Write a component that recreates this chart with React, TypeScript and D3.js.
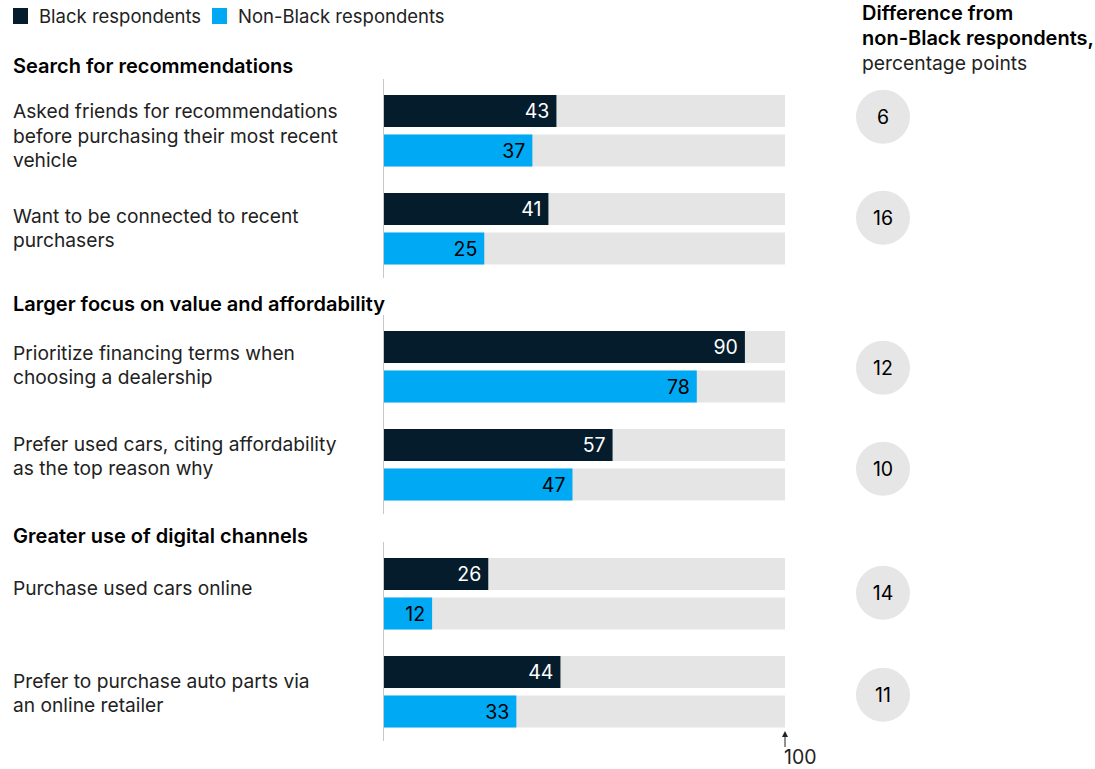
import React from "react";
import * as d3 from "d3";

// Survey items grouped by theme
const groups = [
  "Search for recommendations",
  "Larger focus on value and affordability",
  "Greater use of digital channels",
];
const itemGroup = [0, 0, 1, 1, 2, 2];
const itemLabels = [
  ["Asked friends for recommendations", "before purchasing their most recent", "vehicle"],
  ["Want to be connected to recent", "purchasers"],
  ["Prioritize financing terms when", "choosing a dealership"],
  ["Prefer used cars, citing affordability", "as the top reason why"],
  ["Purchase used cars online"],
  ["Prefer to purchase auto parts via", "an online retailer"],
];
// Share of respondents, %
const blackValues = [43, 41, 90, 57, 26, 44];
const nonBlackValues = [37, 25, 78, 47, 12, 33];
const seriesNames = ["Black respondents", "Non-Black respondents"];

// Layout
const W = 1095;
const H = 769;
const FONT = "Inter, 'Liberation Sans', Arial, sans-serif";
const DARK = "#051c2c";
const BLUE = "#00a9f4";
const TRACK = "#e5e5e5";
const groupTop = [79, 315, 542];
const headingBaseline = [73, 311, 543];
const groupSpan = 199;
const firstRowOffset = 16;
const rowStep = 98;
const barH = 32;
const pairGap = 39.5;
// Fine vertical adjustments of label blocks and difference bubbles per item
const labelNudge = [5, -1, -2, -9, -6, 1];
const bubbleNudge = [-14, -11, 1, 4, -1, 3];

const x = d3.scaleLinear().domain([0, 100]).range([384, 785]);

export default function App() {
  const rows = blackValues.map((b, i) => {
    const g = itemGroup[i];
    const idxInGroup = itemGroup.slice(0, i).filter((v) => v === g).length;
    const top = groupTop[g] + firstRowOffset + idxInGroup * rowStep;
    return { i, top, b, n: nonBlackValues[i], diff: b - nonBlackValues[i] };
  });

  return (
    <svg
      width={W}
      height={H}
      style={{ position: "absolute", left: 0, top: 0, background: "#fff" }}
      fontFamily={FONT}
    >
      {/* legend */}
      {seriesNames.map((name, k) => {
        const lx = k === 0 ? 13 : 212;
        return (
          <g key={name}>
            <rect x={lx} y={8} width={15} height={16} fill={k === 0 ? DARK : BLUE} />
            <text x={lx + 26} y={23} fontSize={18.5} fill="#222">
              {name}
            </text>
          </g>
        );
      })}

      {/* right column header */}
      <text x={862} y={20} fontSize={20} fontWeight={600} fill="#000">
        Difference from
      </text>
      <text x={862} y={45} fontSize={20} fontWeight={600} fill="#000">
        non-Black respondents,
      </text>
      <text x={862} y={70} fontSize={19.3} fill="#222">
        percentage points
      </text>

      {/* group headings and axis lines */}
      {groups.map((g, k) => (
        <g key={g}>
          <text x={13} y={headingBaseline[k]} fontSize={20} fontWeight={600} fill="#000">
            {g}
          </text>
          <line
            x1={x(0) - 0.5}
            x2={x(0) - 0.5}
            y1={groupTop[k]}
            y2={groupTop[k] + groupSpan}
            stroke="#c8c8c8"
            strokeWidth={1}
          />
        </g>
      ))}

      {rows.map((r) => {
        const lines = itemLabels[r.i];
        const pairMid = r.top + (pairGap + barH) / 2;
        const blockTop = pairMid - ((lines.length - 1) * 24.5) / 2 + labelNudge[r.i];
        return (
          <g key={r.i}>
            {lines.map((ln, j) => (
              <text key={j} x={13} y={blockTop + j * 24.5 + 7} fontSize={19.2} fill="#222">
                {ln}
              </text>
            ))}
            {[r.b, r.n].map((v, s) => {
              const y = r.top + s * pairGap;
              return (
                <g key={s}>
                  <rect x={x(0)} y={y} width={x(100) - x(0)} height={barH} fill={TRACK} />
                  <rect x={x(0)} y={y} width={x(v) - x(0)} height={barH} fill={s === 0 ? DARK : BLUE} />
                  <text
                    x={x(v) - 7}
                    y={y + barH / 2 + 7}
                    fontSize={19.5}
                    textAnchor="end"
                    fill={s === 0 ? "#fff" : "#000"}
                  >
                    {v}
                  </text>
                </g>
              );
            })}
            <circle cx={883} cy={pairMid + bubbleNudge[r.i]} r={27} fill="#e6e6e6" />
            <text
              x={883}
              y={pairMid + bubbleNudge[r.i] + 7}
              fontSize={19.5}
              textAnchor="middle"
              fill="#000"
            >
              {r.diff}
            </text>
          </g>
        );
      })}

      {/* scale end marker */}
      <line x1={x(100)} x2={x(100)} y1={733} y2={747} stroke="#222" strokeWidth={1} />
      <path
        d={`M${x(100) - 3},${737} L${x(100)},${731} L${x(100) + 3},${737} Z`}
        fill="#222"
      />
      <text x={x(100) - 1} y={764} fontSize={19.5} fill="#222">
        100
      </text>
    </svg>
  );
}
